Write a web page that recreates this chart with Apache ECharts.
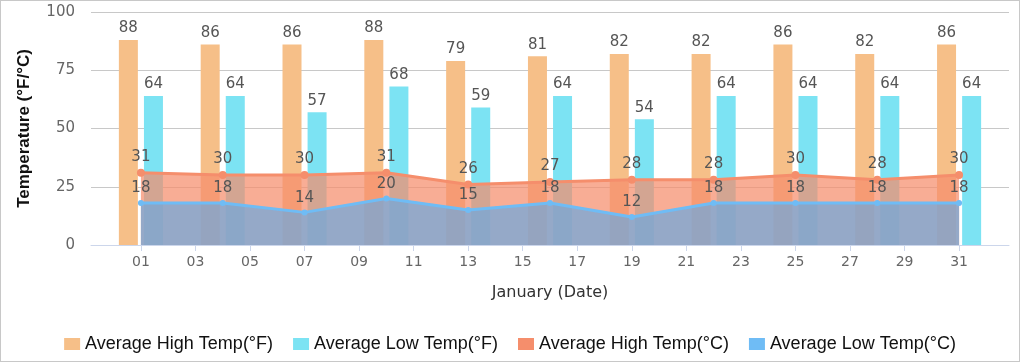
<!DOCTYPE html>
<html>
<head>
<meta charset="utf-8">
<script src="https://cdn.jsdelivr.net/npm/echarts@6/dist/echarts.min.js"></script>
<style>
html,body{margin:0;padding:0;background:#fff;}
#chart{width:1018px;height:360px;border:1px solid #c8c8c8;}
</style>
</head>
<body>
<div id="chart"></div>
<script>
var days = [1, 4, 7, 10, 13, 16, 19, 22, 25, 28, 31];
var highF = [88, 86, 86, 88, 79, 81, 82, 82, 86, 82, 86];
var lowF = [64, 64, 57, 68, 59, 64, 54, 64, 64, 64, 64];
var highC = [31, 30, 30, 31, 26, 27, 28, 28, 30, 28, 30];
var lowC = [18, 18, 14, 20, 15, 18, 12, 18, 18, 18, 18];
var tickDays = [1, 3, 5, 7, 9, 11, 13, 15, 17, 19, 21, 23, 25, 27, 29, 31];
var seriesNames = ['Average High Temp(°F)', 'Average Low Temp(°F)', 'Average High Temp(°C)', 'Average Low Temp(°C)'];

function pairs(vals) { return days.map(function (d, i) { return [d, vals[i]]; }); }

var labelStyle = { show: true, position: 'top', color: '#555', fontFamily: 'DejaVu Sans', fontSize: 15, distance: 4 };

var chart = echarts.init(document.getElementById('chart'), null, { renderer: 'canvas' });
chart.setOption({
  animation: false,
  grid: { left: 90, right: 10, top: 11, bottom: 116 },
  legend: {
    left: 'center', top: 329, itemWidth: 16, itemHeight: 12, itemGap: 20,
    icon: 'rect',
    textStyle: { fontFamily: 'Liberation Sans', fontSize: 18, color: '#111' },
    data: seriesNames
  },
  xAxis: {
    type: 'value', min: -0.83, max: 32.83,
    name: 'January (Date)', nameLocation: 'middle', nameGap: 40,
    nameTextStyle: { fontFamily: 'DejaVu Sans', fontSize: 16, color: '#333' },
    axisLine: { show: true, lineStyle: { color: '#ccd6eb' } },
    axisTick: { show: true, customValues: tickDays, length: 6, lineStyle: { color: '#ccd6eb' } },
    axisLabel: { customValues: tickDays, color: '#666', fontFamily: 'DejaVu Sans', fontSize: 14, margin: 10,
      formatter: function (v) { return (v < 10 ? '0' : '') + v; } },
    splitLine: { show: false }
  },
  yAxis: {
    type: 'value', min: 0, max: 100, interval: 25,
    name: 'Temperature (°F/°C)', nameLocation: 'middle', nameGap: 58,
    nameTextStyle: { fontFamily: 'Liberation Sans', fontWeight: 'bold', fontSize: 17, color: '#111' },
    axisLine: { show: false }, axisTick: { show: false },
    axisLabel: { color: '#666', fontFamily: 'DejaVu Sans', fontSize: 15, margin: 16 },
    splitLine: { lineStyle: { color: '#c8c8c8' } }
  },
  series: [
    { name: seriesNames[0], type: 'bar', data: pairs(highF), barWidth: 19, barGap: '32%',
      itemStyle: { color: '#f6bf88' }, label: labelStyle },
    { name: seriesNames[1], type: 'bar', data: pairs(lowF), barWidth: 19, barGap: '32%',
      itemStyle: { color: '#7ce3f3' }, label: labelStyle },
    { name: seriesNames[2], type: 'line', data: pairs(highC), symbol: 'circle', symbolSize: 8,
      lineStyle: { color: '#f58e6c', width: 3 }, itemStyle: { color: '#f58e6c' },
      areaStyle: { color: '#f58e6c', opacity: 0.72 }, label: labelStyle },
    { name: seriesNames[3], type: 'line', data: pairs(lowC), symbol: 'circle', symbolSize: 6,
      lineStyle: { color: '#6fbcf5', width: 3 }, itemStyle: { color: '#6fbcf5' },
      areaStyle: { color: '#6fa8dc', opacity: 0.72 }, label: labelStyle }
  ]
});
</script>
</body>
</html>
